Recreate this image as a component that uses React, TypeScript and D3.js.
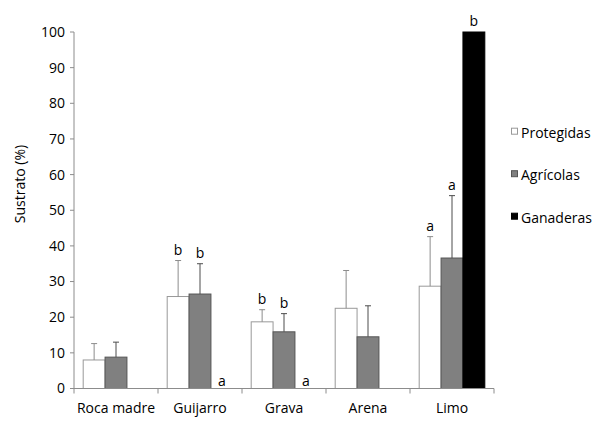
import React from "react";
import * as d3 from "d3";

const categories = ["Roca madre", "Guijarro", "Grava", "Arena", "Limo"];
const seriesNames = ["Protegidas", "Agrícolas", "Ganaderas"];

const protegidas = [8.0, 25.8, 18.7, 22.5, 28.7];
const protegidasErr = [4.6, 10.1, 3.4, 10.6, 13.9];
const agricolas = [8.8, 26.5, 15.9, 14.5, 36.6];
const agricolasErr = [4.2, 8.5, 5.1, 8.7, 17.5];
const ganaderas = [0, 0, 0, 0, 100];
const ganaderasErr = [0, 0, 0, 0, 0];

const protegidasLetters = ["", "b", "b", "", "a"];
const agricolasLetters = ["", "b", "b", "", "a"];
const ganaderasLetters = ["", "a", "a", "", "b"];

const yTicks = [0, 10, 20, 30, 40, 50, 60, 70, 80, 90, 100];

const width = 611;
const height = 425;
const font = "'Open Sans', sans-serif";

const fills = ["#ffffff", "#808080", "#000000"];
const strokes = ["#999999", "#555555", "#000000"];
const errColors = ["#8c8c8c", "#4d4d4d", "#000000"];

export default function App() {
  const x = d3.scaleBand<string>().domain(categories).range([74, 494]);
  const xs = d3
    .scaleBand<string>()
    .domain(seriesNames)
    .range([0, x.bandwidth()])
    .paddingOuter(0.42);
  const y = d3.scaleLinear().domain([0, 100]).range([388.5, 32]);

  const values = [protegidas, agricolas, ganaderas];
  const errs = [protegidasErr, agricolasErr, ganaderasErr];
  const letters = [protegidasLetters, agricolasLetters, ganaderasLetters];

  const bw = xs.bandwidth();

  return (
    <div style={{ position: "fixed", left: 0, top: 0 }}>
      <svg width={width} height={height} style={{ display: "block", background: "#fff" }}>
        {/* y axis */}
        <line x1={74} x2={74} y1={y(100)} y2={y(0)} stroke="#8c8c8c" strokeWidth={1} />
        {yTicks.map((t) => (
          <g key={t}>
            <line x1={70} x2={74} y1={y(t)} y2={y(t)} stroke="#8c8c8c" />
            <text
              x={65}
              y={y(t)}
              dy="0.35em"
              textAnchor="end"
              fontFamily={font}
              fontSize={14}
              fill="#000"
            >
              {t}
            </text>
          </g>
        ))}
        <text
          transform={`translate(25,184) rotate(-90)`}
          textAnchor="middle"
          fontFamily={font}
          fontSize={14}
        >
          Sustrato (%)
        </text>

        {/* bars */}
        {seriesNames.map((s, si) =>
          categories.map((c, ci) => {
            const v = values[si][ci];
            const e = errs[si][ci];
            const bx = (x(c) as number) + (xs(s) as number);
            const cx = bx + bw / 2;
            const top = y(v + e);
            return (
              <g key={s + c}>
                {v > 0 && (
                  <rect
                    x={bx}
                    y={y(v)}
                    width={bw}
                    height={y(0) - y(v)}
                    fill={fills[si]}
                    stroke={strokes[si]}
                    strokeWidth={1}
                  />
                )}
                {e > 0 && (
                  <g stroke={errColors[si]} strokeWidth={1}>
                    <line x1={cx} x2={cx} y1={y(v)} y2={top} />
                    <line x1={cx - 3} x2={cx + 3} y1={top} y2={top} />
                  </g>
                )}
                {letters[si][ci] && (
                  <text
                    x={cx}
                    y={top - (v > 0 ? 6 : 3)}
                    textAnchor="middle"
                    fontFamily={font}
                    fontSize={14}
                  >
                    {letters[si][ci]}
                  </text>
                )}
              </g>
            );
          })
        )}

        {/* x axis */}
        <line x1={74} x2={494} y1={y(0)} y2={y(0)} stroke="#8c8c8c" strokeWidth={1} />
        {[...categories.map((c) => x(c) as number), 494].map((px, i) => (
          <line key={i} x1={px} x2={px} y1={y(0)} y2={y(0) + 5} stroke="#8c8c8c" />
        ))}
        {categories.map((c) => (
          <text
            key={c}
            x={(x(c) as number) + x.bandwidth() / 2}
            y={413}
            textAnchor="middle"
            fontFamily={font}
            fontSize={14}
          >
            {c}
          </text>
        ))}

        {/* legend */}
        {seriesNames.map((s, si) => (
          <g key={s} transform={`translate(511,${137.7 + si * 42.5})`}>
            <rect x={0.5} y={-9.5} width={6} height={6} fill={fills[si]} stroke={strokes[si]} />
            <text x={10} y={0} fontFamily={font} fontSize={14}>
              {s}
            </text>
          </g>
        ))}
      </svg>
    </div>
  );
}
